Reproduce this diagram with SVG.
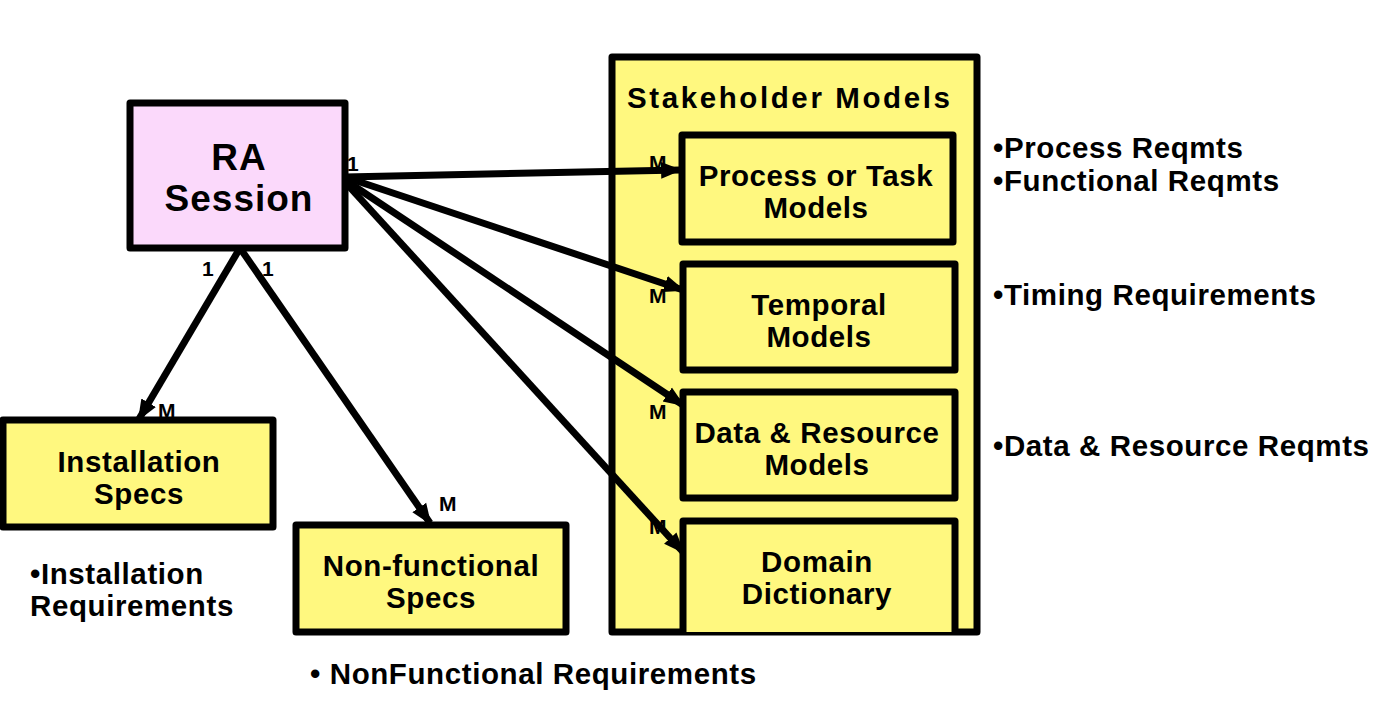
<svg xmlns="http://www.w3.org/2000/svg" width="1382" height="702" viewBox="0 0 1382 702">
<defs>
<marker id="ah" viewBox="0 0 10 10" refX="9" refY="5" markerWidth="3" markerHeight="3" orient="auto" markerUnits="strokeWidth">
<path d="M0,1 L10,5 L0,9 z" fill="#000"/>
</marker>
</defs>
<style>
.box{fill:#FFF87F;stroke:#000;stroke-width:7;stroke-linejoin:round}
.pink{fill:#FBD9FB;stroke:#000;stroke-width:7;stroke-linejoin:round}
.lbl{font-family:"Liberation Sans",Arial,sans-serif;font-weight:bold;font-size:29.5px;letter-spacing:0.6px;fill:#000;text-anchor:middle}
.big{font-family:"Liberation Sans",Arial,sans-serif;font-weight:bold;font-size:37px;letter-spacing:1px;fill:#000;text-anchor:middle}
.note{font-family:"Liberation Sans",Arial,sans-serif;font-weight:bold;font-size:29.5px;letter-spacing:0.6px;fill:#000}
.title{font-family:"Liberation Sans",Arial,sans-serif;font-weight:bold;font-size:29.5px;letter-spacing:2.6px;fill:#000}
.card{font-family:"Liberation Sans",Arial,sans-serif;font-weight:bold;font-size:21px;fill:#000}
.conn{stroke:#000;stroke-width:7;fill:none;marker-end:url(#ah)}
</style>
<rect width="1382" height="702" fill="#fff"/>
<g id="stakeholder">
<rect class="box" x="612" y="57" width="365" height="575"/>
<text class="title" x="627" y="108">Stakeholder Models</text>
</g>
<g id="ra">
<rect class="pink" x="130" y="103" width="215" height="145"/>
<text class="big" x="239" y="170">RA</text>
<text class="big" x="239" y="211">Session</text>
</g>
<g id="process">
<rect class="box" x="682" y="135" width="271" height="107"/>
<text class="lbl" x="816" y="186">Process or Task</text>
<text class="lbl" x="816" y="218">Models</text>
</g>
<g id="temporal">
<rect class="box" x="683" y="264" width="272" height="106"/>
<text class="lbl" x="819" y="315">Temporal</text>
<text class="lbl" x="819" y="347">Models</text>
</g>
<g id="data">
<rect class="box" x="683" y="392" width="272" height="106"/>
<text class="lbl" x="817" y="443">Data &amp; Resource</text>
<text class="lbl" x="817" y="475">Models</text>
</g>
<g id="domain">
<path class="box" d="M683,632 L683,521 L955,521 L955,632"/>
<text class="lbl" x="817" y="572">Domain</text>
<text class="lbl" x="817" y="604">Dictionary</text>
</g>
<g id="installation">
<rect class="box" x="3" y="420" width="270" height="107"/>
<text class="lbl" x="139" y="472">Installation</text>
<text class="lbl" x="139" y="504">Specs</text>
</g>
<g id="nonfunctional">
<rect class="box" x="296" y="525" width="270" height="107"/>
<text class="lbl" x="431" y="576">Non-functional</text>
<text class="lbl" x="431" y="608">Specs</text>
</g>
<g id="connectors">
<line class="conn" x1="345" y1="177" x2="680" y2="170"/>
<line class="conn" x1="345" y1="177" x2="683" y2="290"/>
<line class="conn" x1="345" y1="180" x2="683" y2="405"/>
<line class="conn" x1="345" y1="182" x2="683" y2="552"/>
<line class="conn" x1="240" y1="248" x2="139" y2="419"/>
<line class="conn" x1="240" y1="248" x2="430" y2="523"/>
<text class="card" x="347" y="171">1</text>
<text class="card" x="202" y="276">1</text>
<text class="card" x="262" y="276">1</text>
<text class="card" x="649" y="170">M</text>
<text class="card" x="649" y="303">M</text>
<text class="card" x="649" y="419">M</text>
<text class="card" x="649" y="534">M</text>
<text class="card" x="158" y="418">M</text>
<text class="card" x="439" y="511">M</text>
</g>
<g id="notes">
<text class="note" x="993" y="158">•Process Reqmts</text>
<text class="note" x="993" y="191">•Functional Reqmts</text>
<text class="note" x="993" y="305">•Timing Requirements</text>
<text class="note" x="993" y="456">•Data &amp; Resource Reqmts</text>
<text class="note" x="30" y="584">•Installation</text>
<text class="note" x="30" y="616">Requirements</text>
<text class="note" x="310" y="684">• NonFunctional Requirements</text>
</g>
</svg>
